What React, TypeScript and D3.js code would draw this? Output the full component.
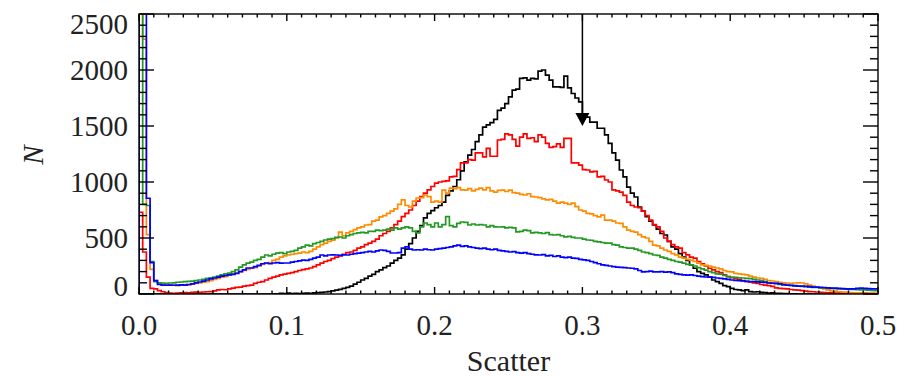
import React from "react";
import * as d3 from "d3";

const BIN_WIDTH = 0.0025;

const black = [
  0,0,0,0,0,0,0,0,0,0,0,0,0,0,0,0,0,0,0,0,
  0,0,0,0,0,0,0,0,0,0,0,0,0,0,0,0,2,0,5,3,
  8,4,6,3,5,8,6,10,12,14,18,22,28,35,42,50,60,70,88,105,
  125,140,160,175,200,215,235,250,275,300,320,350,400,450,500,560,610,680,720,745,
  770,790,820,880,920,960,1020,1100,1180,1240,1290,1360,1420,1490,1510,1530,1560,1640,1660,1700,
  1760,1820,1830,1925,1930,1910,1925,1920,1990,2000,1955,1910,1850,1850,1845,1945,1840,1790,1750,1715,
  1580,1580,1535,1535,1480,1480,1420,1345,1260,1196,1107,1045,955,900,866,777,740,690,650,616,
  580,540,527,470,420,400,360,330,300,260,230,200,185,170,150,125,110,95,75,65,
  50,40,36,30,36,22,18,20,15,12,8,10,6,5,3,4,2,1,0,0,
  0,0,0,0,0,0,0,0,0,0,0,0,0,0,0,0,0,0,0,0,
];

const red = [
  730,375,150,50,45,30,20,12,8,5,8,10,12,10,14,16,15,18,20,22,
  28,36,40,38,45,52,60,62,70,75,80,95,105,110,125,140,150,160,170,178,
  185,190,200,210,218,225,232,245,260,275,290,300,315,330,340,355,370,375,390,410,
  420,440,455,470,490,520,540,560,590,620,650,690,720,750,790,830,870,900,930,960,
  990,1000,1005,1010,1045,1050,1110,1170,1170,1200,1195,1260,1260,1225,1300,1230,1230,1375,1380,1430,
  1420,1380,1320,1400,1430,1390,1395,1360,1420,1400,1345,1310,1315,1340,1310,1390,1390,1170,1170,1150,
  1110,1107,1090,1095,1045,1050,1018,1000,930,920,910,880,820,790,777,770,740,700,660,620,
  600,560,500,470,440,420,410,370,350,330,320,290,270,250,230,215,200,190,170,155,
  145,140,130,120,112,108,100,95,85,80,75,68,55,50,48,45,40,36,35,30,
  25,22,20,18,15,12,10,12,8,10,8,12,6,8,10,5,8,6,5,4,
];

const orange = [
  3000,2275,530,220,120,100,90,85,80,78,75,80,85,82,90,95,100,105,110,120,
  130,140,150,155,170,180,190,200,210,220,232,235,250,265,277,280,300,310,330,340,
  348,355,360,365,375,370,380,400,420,440,455,470,480,500,553,520,545,560,575,590,
  600,616,620,650,660,688,700,720,740,760,800,840,790,777,830,857,860,884,870,820,
  830,820,928,900,946,940,950,930,928,940,920,935,946,930,950,920,910,925,928,915,
  928,905,900,890,884,895,870,866,860,850,840,845,830,812,820,812,800,812,780,750,
  740,720,715,700,688,705,660,660,650,634,630,600,570,560,553,530,510,500,470,437,
  430,410,393,380,360,350,330,320,310,303,290,275,260,255,250,240,232,225,210,200,
  197,185,180,175,170,160,150,143,140,130,120,116,110,105,100,98,95,98,100,98,
  90,80,70,62,55,45,36,30,25,20,18,15,12,10,10,8,6,5,5,4,
];

const green = [
  3000,800,790,290,110,100,98,95,98,100,105,107,110,112,115,120,125,130,140,145,
  152,160,170,180,187,200,215,240,260,275,285,300,310,330,348,340,355,365,370,360,
  375,380,390,410,420,437,430,450,460,470,482,490,495,505,509,500,520,530,540,545,
  550,545,560,560,570,565,570,580,570,590,580,590,600,590,560,545,600,634,620,600,
  634,600,620,690,610,600,630,643,640,616,625,616,620,616,600,610,600,598,600,590,
  595,590,555,560,570,565,545,550,545,540,548,530,527,530,520,510,515,505,500,500,
  490,482,480,470,465,460,455,455,440,437,420,415,410,410,400,390,375,370,360,348,
  345,330,320,310,300,290,285,275,265,260,250,235,225,214,200,190,180,178,165,155,
  152,148,145,143,140,138,130,125,120,110,100,98,92,85,80,78,75,71,70,68,
  65,62,60,58,55,53,53,50,48,46,45,44,42,40,38,36,36,35,33,30,
];

const blue = [
  3000,3000,855,280,120,85,80,78,80,78,80,82,80,85,90,100,107,115,125,135,
  143,150,160,165,170,175,185,200,215,232,232,245,255,270,277,270,277,280,275,277,
  277,285,290,295,303,300,310,320,330,348,340,348,350,348,345,350,348,355,360,365,
  370,375,380,375,385,393,390,380,366,366,370,410,420,400,393,395,393,400,395,393,
  400,405,410,415,420,430,437,425,430,420,415,410,405,410,400,395,400,390,385,380,
  375,378,370,365,370,360,355,350,348,352,340,345,335,340,330,325,330,320,318,310,
  305,300,290,280,270,260,255,250,245,240,238,235,232,230,225,210,197,200,205,197,
  197,200,195,197,190,180,175,170,168,170,165,160,155,152,150,148,143,140,135,130,
  125,122,120,118,112,110,110,108,106,104,98,96,95,90,85,80,78,75,71,70,
  68,65,62,62,60,58,55,53,53,50,48,45,45,46,50,53,50,48,45,45,
];

const seriesList = [
  { name: "black", values: black, color: "#000000" },
  { name: "red", values: red, color: "#ff0000" },
  { name: "orange", values: orange, color: "#ff8c00" },
  { name: "green", values: green, color: "#229922" },
  { name: "blue", values: blue, color: "#0000ff" },
];

const xTickLabels = ["0.0", "0.1", "0.2", "0.3", "0.4", "0.5"];
const yTickLabels = ["0", "500", "1000", "1500", "2000", "2500"];
const arrowX = 0.3;
const arrowTipN = 1500;

const W = 914;
const H = 376;
const L = 139;
const R = 878;
const T = 14;
const B = 294;

export default function App() {
  const x = d3.scaleLinear().domain([0, 0.5]).range([L, R]);
  const y = d3.scaleLinear().domain([0, 2500]).range([B, T]);

  const line = d3
    .line<[number, number]>()
    .x((d) => x(d[0]))
    .y((d) => y(d[1]))
    .curve(d3.curveStepAfter);

  const makePts = (vals: number[]): [number, number][] => {
    const pts: [number, number][] = [[0, 0]];
    vals.forEach((v, i) => pts.push([i * BIN_WIDTH, v]));
    pts.push([vals.length * BIN_WIDTH, vals[vals.length - 1]]);
    return pts;
  };

  const xMinor = d3.range(0, 51).map((i) => i / 100);
  const yMinor = d3.range(0, 26).map((i) => i * 100);
  const font = "'Liberation Serif', 'Times New Roman', serif";

  const tipY = y(arrowTipN);
  const ax = x(arrowX);

  return (
    <svg
      width={W}
      height={H}
      style={{ position: "absolute", left: 0, top: 0, background: "#fff" }}
    >
      <defs>
        <clipPath id="plotclip">
          <rect x={L} y={T} width={R - L} height={B - T} />
        </clipPath>
      </defs>
      <rect x={0} y={0} width={W} height={H} fill="#fff" />
      <g clipPath="url(#plotclip)">
        {seriesList.map((s) => (
          <path
            key={s.name}
            d={line(makePts(s.values)) || ""}
            fill="none"
            stroke={s.color}
            strokeWidth={1.7}
          />
        ))}
      </g>
      {/* frame */}
      <rect x={L} y={T} width={R - L} height={B - T} fill="none" stroke="#000" strokeWidth={1.4} />
      {/* x ticks */}
      {xMinor.map((v, i) => {
        const major = i % 10 === 0;
        const len = major ? 7 : 3.5;
        return (
          <g key={"xt" + i}>
            <line x1={x(v)} x2={x(v)} y1={B} y2={B - len} stroke="#000" strokeWidth={1.4} />
            <line x1={x(v)} x2={x(v)} y1={T} y2={T + len} stroke="#000" strokeWidth={1.4} />
          </g>
        );
      })}
      {/* y ticks */}
      {yMinor.map((v, i) => {
        const major = i % 5 === 0;
        const len = major ? 15 : 8;
        return (
          <g key={"yt" + i}>
            <line x1={L} x2={L + len} y1={y(v)} y2={y(v)} stroke="#000" strokeWidth={1.4} />
            <line x1={R} x2={R - len} y1={y(v)} y2={y(v)} stroke="#000" strokeWidth={1.4} />
          </g>
        );
      })}
      {/* x tick labels */}
      {xTickLabels.map((t) => (
        <text
          key={"xl" + t}
          x={x(+t)}
          y={335}
          textAnchor="middle"
          fontFamily={font}
          fontSize={29}
          fill="#222"
        >
          {t}
        </text>
      ))}
      {/* y tick labels */}
      {yTickLabels.map((t, i) => {
        let cy = y(+t);
        if (i === 0) cy -= 8;
        if (i === yTickLabels.length - 1) cy += 10;
        return (
          <text
            key={"yl" + t}
            x={128}
            y={cy}
            dy="0.35em"
            textAnchor="end"
            fontFamily={font}
            fontSize={29}
            fill="#222"
          >
            {t}
          </text>
        );
      })}
      {/* axis titles */}
      <text
        x={(L + R) / 2}
        y={371}
        textAnchor="middle"
        fontFamily={font}
        fontSize={30}
        fill="#222"
      >
        Scatter
      </text>
      <text
        transform={`translate(43, 155) rotate(-90)`}
        textAnchor="middle"
        fontFamily={font}
        fontSize={29}
        fontStyle="italic"
        fill="#222"
      >
        N
      </text>
      {/* arrow */}
      <line x1={ax} x2={ax} y1={T} y2={tipY - 12} stroke="#000" strokeWidth={1.5} />
      <path
        d={`M${ax - 7},${tipY - 13} L${ax + 7},${tipY - 13} L${ax},${tipY} Z`}
        fill="#000"
      />
    </svg>
  );
}
